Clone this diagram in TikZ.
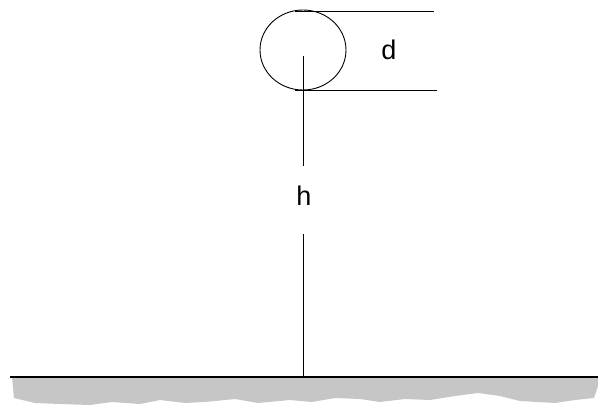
\documentclass[tikz,border=0pt]{standalone}
\usepackage{fontspec}
\setmainfont{Liberation Sans}
\usetikzlibrary{shapes.geometric}
\begin{document}
\begin{tikzpicture}[x=1pt,y=-1pt,
  lbl/.style={font=\fontsize{27}{27}\selectfont,inner sep=1pt},
  thin line/.style={line width=0.9pt}]
  \useasboundingbox (0,0) rectangle (598,410);
  % Ground
  \fill[gray!45] (12,377) -- (598,377) -- (598,386) -- (594,398)
    -- (575,400) -- (555,403) -- (520,401) -- (500,396) -- (478,393)
    -- (455,396) -- (430,400) -- (405,399) -- (380,402) -- (360,399)
    -- (335,398) -- (312,402) -- (290,400) -- (258,403) -- (235,399)
    -- (205,402) -- (185,403) -- (160,400) -- (140,404) -- (112,402)
    -- (90,405) -- (60,404) -- (35,403) -- (14,398) -- cycle;
  \draw[line width=1.6pt] (10,377) coordinate (gl) -- (598,377) coordinate (gr);
  % Ball
  \node[draw,thin line,ellipse,minimum width=86pt,minimum height=80pt,inner sep=0pt]
    (ball) at (303,50) {};
  \coordinate (top) at (295,11);
  \coordinate (bot) at (295,90);
  \coordinate (topR) at (434,11);
  \coordinate (botR) at (437,90);
  \draw[thin line] (top) -- (topR);
  \draw[thin line] (bot) -- (botR);
  \node[lbl] (d) at (389,50) {d};
  % Height
  \coordinate (c) at (303,56);
  \coordinate (hUp) at (303,166);
  \coordinate (hDown) at (303,234);
  \coordinate (foot) at (303,377);
  \node[lbl] (h) at (304,196) {h};
  \draw[thin line] (c) -- (hUp);
  \draw[thin line] (hDown) -- (foot);
\end{tikzpicture}
\end{document}
